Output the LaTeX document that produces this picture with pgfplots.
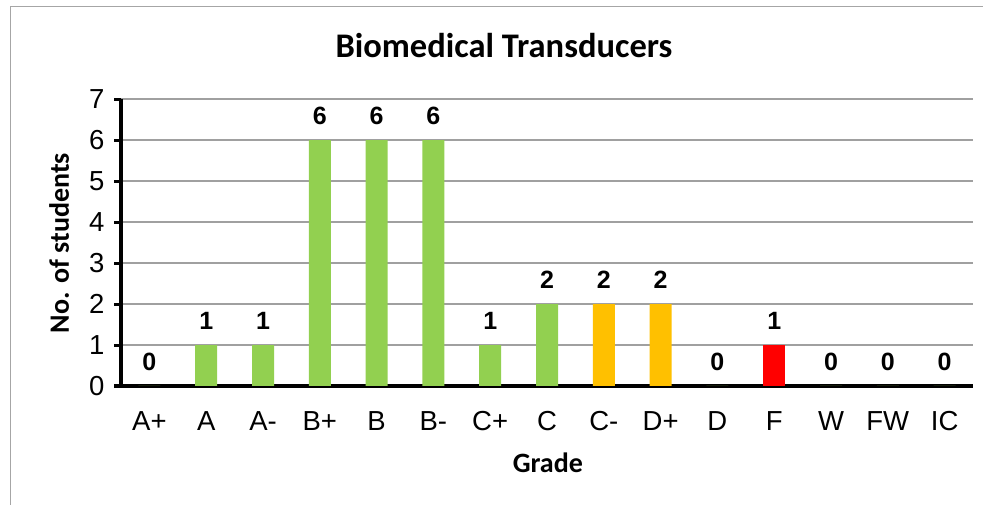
\documentclass[border=0pt]{standalone}
\usepackage{pgfplots}
\pgfplotsset{compat=1.18}
\usepackage{fontspec}
\setmainfont{Liberation Sans}
\newfontfamily\calibri{Carlito}
\definecolor{grn}{HTML}{92D050}
\definecolor{org}{HTML}{FFC000}
\definecolor{rd}{HTML}{FF0000}
\definecolor{gridgray}{HTML}{A0A0A0}
\definecolor{framegray}{HTML}{A6A6A6}
\begin{document}
\begin{tikzpicture}
\useasboundingbox (0,0) rectangle (983bp,505bp);
\draw[framegray, line width=1.5bp] (10.5bp,0) -- (10.5bp,498.5bp) -- (983bp,498.5bp);
\begin{axis}[
  at={(121bp,119bp)}, anchor=south west,
  scale only axis, width=852bp, height=287bp,
  xmin=-0.5, xmax=14.5, ymin=0, ymax=7,
  ybar, bar width=22bp,
  axis x line=bottom, axis y line=left,
  axis line style={-, line width=3.5bp, black},
  xtick={0,...,14},
  xticklabels={A+,A,A-,B+,B,B-,C+,C,C-,D+,D,F,W,FW,IC},
  x tick style={draw=none},
  extra x ticks={-0.5,0.5,...,14.5},
  extra x tick labels={},
  extra x tick style={tick style={line width=3bp, black}, major tick length=7bp, tick align=outside, grid=none},
  ytick={0,...,7},
  y tick style={line width=3bp, black},
  major tick length=7bp, tick align=outside,
  ymajorgrids, grid style={gridgray, line width=1.5bp},
  tick label style={font=\fontsize{27.5bp}{32bp}\selectfont},
  /pgf/number format/assume math mode=true,
  yticklabel style={xshift=-6bp},
  xticklabel style={yshift=-15bp},
  title={Biomedical Transducers},
  title style={font=\calibri\bfseries\fontsize{34.5bp}{40bp}\selectfont, at={(rel axis cs:0.4495,1.164)}, anchor=center},
  xlabel={Grade},
  xlabel style={font=\calibri\bfseries\fontsize{28bp}{32bp}\selectfont, at={(rel axis cs:0.501,-0.268)}, anchor=center},
  ylabel={No. of students},
  ylabel style={font=\calibri\bfseries\fontsize{28bp}{32bp}\selectfont, at={(rel axis cs:-0.0726,0.498)}, anchor=center, rotate=0},
  nodes near coords,
  nodes near coords style={font=\bfseries\fontsize{25bp}{30bp}\selectfont, anchor=south, inner sep=0pt, yshift=15bp, black},
  clip=false,
]
\addplot[fill=grn, draw=none, bar shift=0pt] coordinates {(0,0) (1,1) (2,1) (3,6) (4,6) (5,6) (6,1) (7,2) (10,0) (12,0) (13,0) (14,0)};
\addplot[fill=org, draw=none, bar shift=0pt] coordinates {(8,2) (9,2)};
\addplot[fill=rd, draw=none, bar shift=0pt] coordinates {(11,1)};
\end{axis}
\end{tikzpicture}
\end{document}
